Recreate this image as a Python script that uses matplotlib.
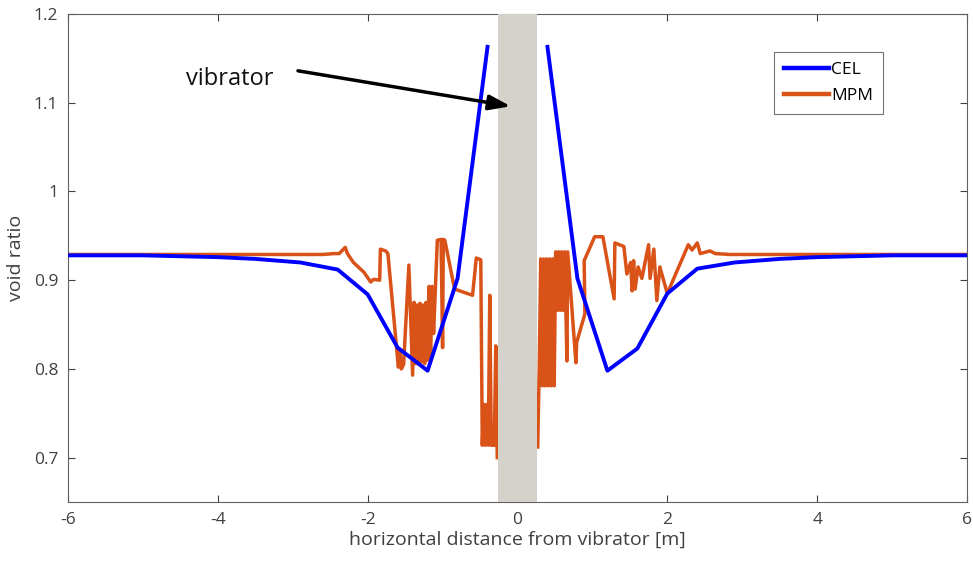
import matplotlib
matplotlib.use("Agg")
import matplotlib.pyplot as plt
import numpy as np

plt.rcParams['font.family'] = ['Open Sans', 'DejaVu Sans']
plt.rcParams['axes.unicode_minus'] = False

# CEL curve (gap over the vibrator)
cel_x = [-6, -5, -4, -3.5, -2.9, -2.4, -2.0, -1.6, -1.2, -0.8, -0.4,
         np.nan,
         0.4, 0.8, 1.2, 1.6, 2.0, 2.4, 2.9, 3.5, 4, 5, 6]
cel_y = [0.928, 0.928, 0.926, 0.924, 0.920, 0.912, 0.884, 0.824, 0.798, 0.902, 1.163,
         np.nan,
         1.163, 0.902, 0.798, 0.823, 0.885, 0.913, 0.920, 0.924, 0.926, 0.928, 0.928]

# MPM curve (left part, gap, right part)
mpm_x = [-6, -4, -3, -2.6, -2.45, -2.38, -2.30, -2.27, -2.19, -2.05, -1.96, -1.92,
         -1.84, -1.83, -1.76, -1.73, -1.59, -1.57, -1.55, -1.52, -1.45, -1.40,
         -1.38, -1.36, -1.34, -1.32, -1.30, -1.28, -1.26, -1.24, -1.22, -1.20,
         -1.18, -1.16, -1.14, -1.12, -1.07, -1.02, -1.00, -0.99, -0.97, -0.84,
         -0.60, -0.55, -0.49, -0.47, -0.45, -0.43, -0.41, -0.39, -0.37, -0.35,
         -0.31, -0.29, -0.27,
         np.nan,
         0.27, 0.29, 0.31, 0.33, 0.35, 0.37, 0.39, 0.41, 0.43, 0.45, 0.47, 0.49,
         0.51, 0.53, 0.55, 0.57, 0.59, 0.61, 0.63, 0.66, 0.67, 0.78, 0.79, 0.90,
         0.89, 1.03, 1.14, 1.29, 1.30, 1.42, 1.46, 1.51, 1.53, 1.55, 1.57, 1.61,
         1.66, 1.75, 1.77, 1.82, 1.86, 1.90, 2.0, 2.28, 2.33, 2.40, 2.44, 2.57,
         2.64, 2.84, 4, 6]
mpm_y = [0.929, 0.929, 0.929, 0.929, 0.930, 0.930, 0.937, 0.930, 0.920, 0.909, 0.898, 0.901,
         0.900, 0.935, 0.933, 0.930, 0.802, 0.821, 0.800, 0.805, 0.917, 0.793,
         0.875, 0.806, 0.872, 0.806, 0.874, 0.808, 0.872, 0.806, 0.875, 0.810,
         0.893, 0.812, 0.893, 0.840, 0.945, 0.946, 0.824, 0.946, 0.945, 0.890,
         0.883, 0.925, 0.923, 0.714, 0.760, 0.714, 0.760, 0.714, 0.883, 0.714,
         0.714, 0.826, 0.700,
         np.nan,
         0.712, 0.800, 0.924, 0.781, 0.924, 0.781, 0.924, 0.781, 0.924, 0.781, 0.924, 0.781,
         0.932, 0.866, 0.932, 0.866, 0.932, 0.866, 0.932, 0.809, 0.932, 0.807, 0.830, 0.862,
         0.922, 0.949, 0.949, 0.879, 0.942, 0.938, 0.907, 0.920, 0.888, 0.922, 0.890, 0.915,
         0.902, 0.940, 0.902, 0.935, 0.877, 0.915, 0.885, 0.940, 0.934, 0.942, 0.930, 0.933,
         0.930, 0.929, 0.929, 0.929]

vib_left, vib_right = -0.26, 0.26

fig = plt.figure(figsize=(9.73, 5.63), dpi=100)
ax = fig.add_axes([0.0699, 0.1083, 0.9239, 0.8668])

ax.plot(cel_x, cel_y, color='#0000FF', lw=2.8, label='CEL', zorder=3)
ax.plot(mpm_x, mpm_y, color='#D95319', lw=2.5, label='MPM', zorder=2)
ax.axvspan(vib_left, vib_right, color='#D5D1CB', zorder=4, lw=0)

# label and arrow
ax.text(-4.42, 1.127, 'vibrator', fontsize=17, color='#111111', va='center', ha='left')
ax.annotate('', xy=(-0.09, 1.096), xytext=(-2.93, 1.136),
            arrowprops=dict(arrowstyle='-|>,head_length=1.3,head_width=0.45',
                            color='black', lw=2.5, shrinkA=0, shrinkB=0),
            zorder=5)

ax.set_xlim(-6, 6)
ax.set_ylim(0.65, 1.2)
ax.set_xticks([-6, -4, -2, 0, 2, 4, 6])
ax.set_yticks([0.7, 0.8, 0.9, 1.0, 1.1, 1.2])
ax.set_yticklabels(['0.7', '0.8', '0.9', '1', '1.1', '1.2'])
ax.tick_params(direction='in', length=5, width=0.8, top=True, right=True,
               labelsize=12.5, colors='#404040', pad=7)
for s in ax.spines.values():
    s.set_color('#606060')
    s.set_linewidth(0.8)

ax.set_xlabel('horizontal distance from vibrator [m]', fontsize=14, color='#404040',
              labelpad=2)
ax.set_ylabel('void ratio', fontsize=14, color='#404040', labelpad=6)

leg = ax.legend(loc='upper right', bbox_to_anchor=(0.9066, 0.922), fontsize=12.5,
                frameon=True, fancybox=False, handlelength=2.6, handletextpad=0.15,
                borderpad=0.55, labelspacing=0.6, borderaxespad=0)
leg.get_frame().set_edgecolor('#505050')
leg.get_frame().set_linewidth(0.8)
for h in leg.get_lines():
    h.set_linewidth(3.2)

fig.savefig('out.png', dpi=100)
